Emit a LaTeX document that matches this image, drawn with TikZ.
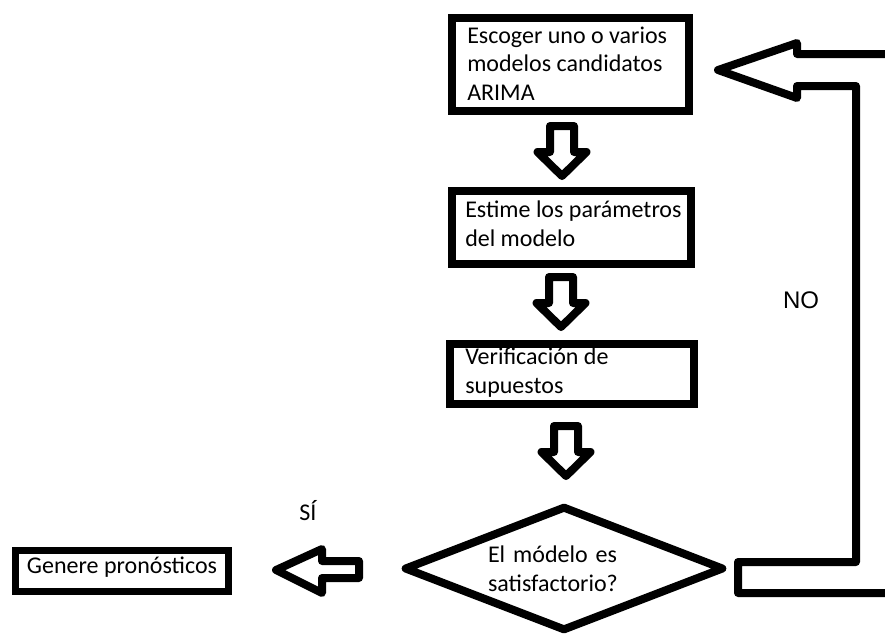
\documentclass[tikz,border=0pt]{standalone}
\usepackage{fontspec}
\setmainfont{Carlito}
\newfontfamily\arialfont{Liberation Sans}
\usetikzlibrary{shapes.geometric}
\tikzset{
  txt/.style={font=\fontsize{18}{21.5}\selectfont, text=black},
  procbox/.style={draw=black, line width=6pt, rectangle, inner sep=0pt},
  boxtext/.style={txt, anchor=west, align=left, inner sep=0pt},
  heavy/.style={draw=black, line width=6pt, line join=round},
  blockdown/.pic={\draw[heavy] (-12,0) -- (-12,26) -- (-24.5,26) -- (0,50) -- (24.5,26) -- (12,26) -- (12,0) -- cycle;}
}
\begin{document}
\begin{tikzpicture}[x=0.75pt,y=-0.75pt]
\clip (0,0) rectangle (885,637);
\fill[white] (0,0) rectangle (885,637);

% boxes
\node[procbox, minimum width=177.75pt, minimum height=69.75pt] (b1) at (570.5,64.5) {};
\node[boxtext] (b1t) at (467,63.5) {Escoger uno o varios\\modelos candidatos\\ARIMA};
\node[procbox, minimum width=179.25pt, minimum height=54.75pt] (b2) at (571.5,227.5) {};
\node[boxtext] (b2t) at (465,224) {Estime los parámetros\\del modelo};
\node[procbox, minimum width=183pt, minimum height=45pt] (b3) at (572,374) {};
\node[boxtext] (b3t) at (465,372.5) {Verificación de\\supuestos};
\node[txt, draw=black, line width=5.25pt, rectangle, minimum width=159.75pt, minimum height=30.75pt, inner sep=0pt, text height=13pt, text depth=10pt] (gen) at (122,571) {Genere pronósticos};

% decision
\node[txt, diamond, draw=black, line width=6pt, line join=round, aspect=2.56, minimum width=240pt, minimum height=93.75pt, inner sep=0pt, text width=114pt, align=left] (dec) at (564,568.5) {El módelo es\\satisfactorio?};

% down block arrows
\pic (a1) at (562,126) {blockdown};
\pic (a2) at (561,277) {blockdown};
\pic (a3) at (566,426) {blockdown};

% left block arrow (SI)
\draw[heavy] (359,561) -- (322,561) -- (322,549) -- (276,570) -- (322,593) -- (322,578) -- (359,578) -- cycle;

% NO loop (hollow block arrow back to the first box)
\coordinate (looptip) at (718,70);
\draw[heavy] (890,593) -- (738,593) -- (738,562) -- (856,562) -- (856,86) -- (797,86) -- (797,98) -- (looptip) -- (797,43) -- (797,54) -- (890,54);

% labels
\node[txt] (si) at (308,511) {SÍ};
\node[font=\arialfont\fontsize{18}{21.5}\selectfont, text=black] (no) at (801,300) {NO};
\end{tikzpicture}
\end{document}
